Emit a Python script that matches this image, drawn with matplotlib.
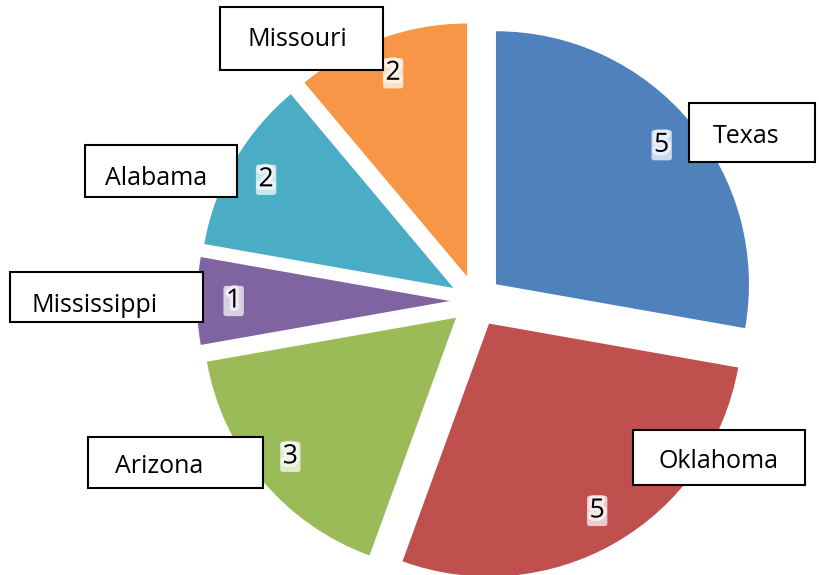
import matplotlib.pyplot as plt
import matplotlib.patheffects as pe
from matplotlib.patches import Rectangle

# Data
states = ['Texas', 'Oklahoma', 'Arizona', 'Mississippi', 'Alabama', 'Missouri']
counts = [5, 5, 3, 1, 2, 2]
colors = ['#4F81BD', '#C0504D', '#9BBB59', '#8064A2', '#4BACC6', '#F79646']

# Label box layout in pixels: (box left, top, right, bottom, text left, text baseline)
W, H = 819, 575
label_boxes = {
    'Texas':       (689, 103, 815, 162, 713, 143),
    'Oklahoma':    (633, 430, 805, 485, 659, 468),
    'Arizona':     (88, 437, 263, 488, 115, 473),
    'Mississippi': (10, 272, 203, 322, 32, 312),
    'Alabama':     (85, 145, 237, 197, 105, 185),
    'Missouri':    (220, 7, 383, 70, 247, 46),
}

total = sum(counts)
scale = 253  # pixels per pie radius
cx, cy = 476, 301  # pie centre in pixels

fig = plt.figure(figsize=(W / 100, H / 100), dpi=100)
ax = fig.add_axes([0, 0, 1, 1])

wedges, texts, autotexts = ax.pie(
    counts, colors=colors, startangle=90, counterclock=False,
    explode=[0.103] * len(counts), radius=1,
    autopct=lambda p: f"{p * total / 100:.0f}", pctdistance=0.855,
    wedgeprops=dict(linewidth=0),
    textprops=dict(fontsize=19, family='Open Sans', color='black'))

# soft white glow behind the values
for t in autotexts:
    t.set_bbox(dict(boxstyle='round,pad=0.1', fc='white', ec='none', alpha=0.7))
    t.set_path_effects([pe.withStroke(linewidth=5, foreground='white', alpha=0.6)])

ax.set_xlim(-cx / scale, (W - cx) / scale)
ax.set_ylim(-(H - cy) / scale, cy / scale)
ax.set_aspect('auto')
ax.axis('off')

# Category labels in boxes
for name in states:
    x0, y0, x1, y1, tx, ty = label_boxes[name]
    fig.add_artist(Rectangle((x0 / W, 1 - y1 / H), (x1 - x0) / W, (y1 - y0) / H,
                             transform=fig.transFigure, facecolor='white',
                             edgecolor='black', linewidth=1.5))
    fig.text(tx / W, 1 - ty / H, name, ha='left', va='baseline',
             fontsize=18, family='Open Sans', color='black')

fig.savefig('out.png', dpi=100)
